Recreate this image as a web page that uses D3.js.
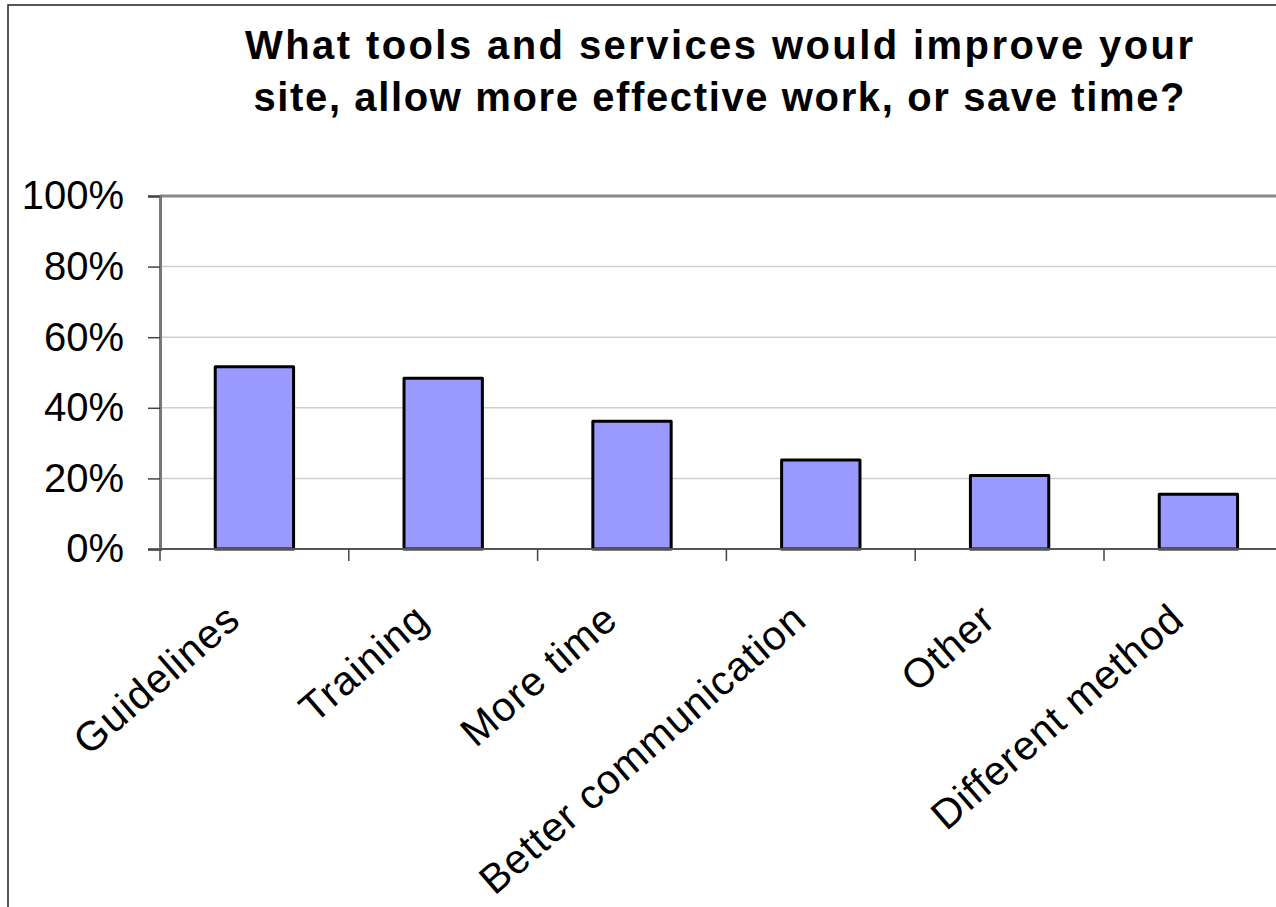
<!DOCTYPE html>
<html>
<head>
<meta charset="utf-8">
<script src="https://cdn.jsdelivr.net/npm/d3@7"></script>
<style>
  html, body { margin: 0; padding: 0; background: #fff; }
  svg { display: block; }
</style>
</head>
<body>
<div id="chart"></div>
<script>
// chart data
const categories = ["Guidelines", "Training", "More time", "Better communication", "Other", "Different method"];
const values = [51.6, 48.4, 36.2, 25.2, 20.8, 15.5];
const yTicks = [0, 20, 40, 60, 80, 100];
const titleLines = ["What tools and services would improve your", "site, allow more effective work, or save time?"];

const width = 1276;
const height = 907;

const svg = d3.select("#chart")
    .append("svg")
    .attr("width", width)
    .attr("height", height);

// outer frame of the chart (runs off right and bottom)
svg.append("path")
    .attr("d", `M8,${height + 5} L8,5 L${width + 5},5`)
    .attr("fill", "none")
    .attr("stroke", "#222")
    .attr("stroke-width", 1.5);

// title, two centred bold lines
const titleWidths = [948, 931];
svg.selectAll(".title")
    .data(titleLines)
    .enter()
    .append("text")
    .attr("class", "title")
    .attr("x", 719)
    .attr("y", (d, i) => 59 + i * 52)
    .attr("text-anchor", "middle")
    .attr("font-family", "Arial, 'Liberation Sans', sans-serif")
    .attr("font-weight", "bold")
    .attr("font-size", 40)
    .attr("textLength", (d, i) => titleWidths[i])
    .attr("lengthAdjust", "spacing")
    .text(d => d);

// plot area
const plotLeft = 160, plotTop = 196, plotBottom = 549;
const step = 188.8;
const plotRight = plotLeft + step * categories.length;

const x = d3.scaleBand()
    .domain(categories)
    .range([plotLeft, plotRight])
    .paddingInner(0.585)
    .paddingOuter(0.2925);

const y = d3.scaleLinear()
    .domain([0, 100])
    .range([plotBottom, plotTop]);

// gridlines
svg.append("g")
    .selectAll("line")
    .data(yTicks.filter(t => t > 0 && t < 100))
    .enter()
    .append("line")
    .attr("x1", plotLeft)
    .attr("x2", width)
    .attr("y1", d => y(d))
    .attr("y2", d => y(d))
    .attr("stroke", "#cfcfcf")
    .attr("stroke-width", 1.5);

// top border of the plot area
svg.append("line")
    .attr("x1", plotLeft)
    .attr("x2", width)
    .attr("y1", y(100))
    .attr("y2", y(100))
    .attr("stroke", "#888")
    .attr("stroke-width", 3);

// bars
svg.append("g")
    .selectAll("rect")
    .data(values)
    .enter()
    .append("rect")
    .attr("x", (d, i) => x(categories[i]))
    .attr("y", d => y(d))
    .attr("width", x.bandwidth())
    .attr("height", d => y(0) - y(d))
    .attr("fill", "#9999ff")
    .attr("stroke", "#000")
    .attr("stroke-width", 3)
    .attr("stroke-linejoin", "round");

// y axis
const yAxis = svg.append("g")
    .attr("transform", `translate(${plotLeft},0)`)
    .call(d3.axisLeft(y)
        .tickValues(yTicks)
        .tickSize(12)
        .tickPadding(24)
        .tickFormat(d => d + "%"));
yAxis.select(".domain")
    .attr("stroke", "#777")
    .attr("stroke-width", 3);
yAxis.selectAll(".tick line")
    .attr("stroke", "#444")
    .attr("stroke-width", 1.5);
yAxis.selectAll(".tick text")
    .attr("font-family", "Arial, 'Liberation Sans', sans-serif")
    .attr("font-size", 40)
    .attr("fill", "#000");

// x axis line and category ticks
svg.append("line")
    .attr("x1", plotLeft)
    .attr("x2", width)
    .attr("y1", plotBottom)
    .attr("y2", plotBottom)
    .attr("stroke", "#555")
    .attr("stroke-width", 2);

svg.append("g")
    .selectAll("line")
    .data(d3.range(categories.length + 1))
    .enter()
    .append("line")
    .attr("x1", i => plotLeft + i * x.step())
    .attr("x2", i => plotLeft + i * x.step())
    .attr("y1", plotBottom)
    .attr("y2", plotBottom + 12)
    .attr("stroke", "#444")
    .attr("stroke-width", 1.5);

// rotated category labels
svg.append("g")
    .selectAll("text")
    .data(categories)
    .enter()
    .append("text")
    .attr("transform", d => {
        const cx = x(d) + x.bandwidth() / 2;
        return `translate(${cx - 12},${plotBottom + 74}) rotate(-41)`;
    })
    .attr("text-anchor", "end")
    .attr("font-family", "Arial, 'Liberation Sans', sans-serif")
    .attr("font-size", 41)
    .attr("letter-spacing", 1)
    .text(d => d);
</script>
</body>
</html>
